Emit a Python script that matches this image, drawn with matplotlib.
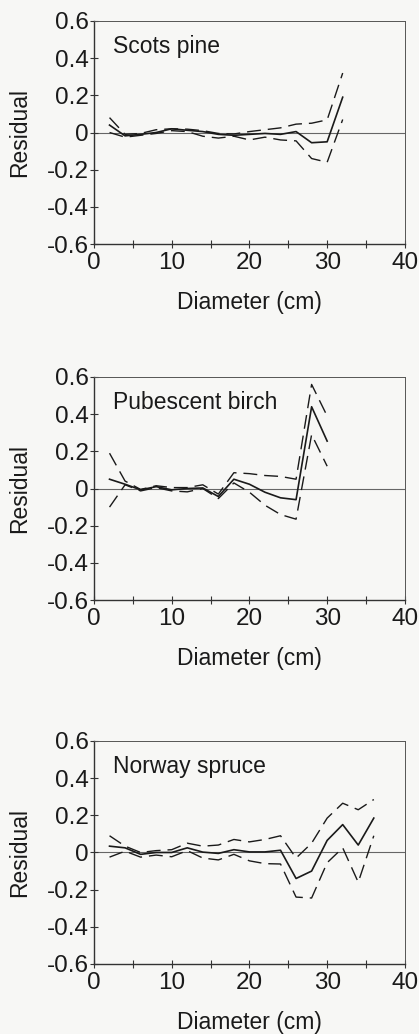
import matplotlib.pyplot as plt
import numpy as np

plt.rcParams['font.family'] = ['Liberation Sans', 'DejaVu Sans']

#Diameter classes (cm)
d_pine = [2, 4, 6, 8, 10, 12, 14, 16, 18, 20, 22, 24, 26, 28, 30, 32]
d_birch = [2, 4, 6, 8, 10, 12, 14, 16, 18, 20, 22, 24, 26, 28, 30]
d_spruce = [2, 4, 6, 8, 10, 12, 14, 16, 18, 20, 22, 24, 26, 28, 30, 32, 34, 36]

#Scots pine residuals: mean, upper and lower limit
pine_mean = [0.04, -0.018, -0.01, 0.0, 0.02, 0.012, 0.005, -0.01, -0.015, -0.01, -0.005, -0.01, 0.005, -0.055, -0.05, 0.19]
pine_upper = [0.08, -0.01, -0.005, 0.015, 0.02, 0.018, 0.01, -0.005, -0.008, 0.005, 0.015, 0.025, 0.045, 0.05, 0.068, 0.32]
pine_lower = [0.0, -0.025, -0.015, -0.005, 0.01, 0.005, -0.02, -0.03, -0.02, -0.04, -0.025, -0.04, -0.045, -0.14, -0.16, 0.07]

#Pubescent birch residuals
birch_mean = [0.05, 0.023, -0.007, 0.01, -0.007, 0.0, 0.003, -0.043, 0.05, 0.023, -0.02, -0.05, -0.06, 0.44, 0.255]
birch_upper = [0.19, 0.04, -0.005, 0.015, 0.005, 0.005, 0.02, -0.03, 0.085, 0.08, 0.07, 0.065, 0.05, 0.56, 0.39]
birch_lower = [-0.1, 0.02, -0.013, 0.005, -0.013, -0.018, 0.0, -0.054, 0.03, -0.02, -0.09, -0.14, -0.165, 0.29, 0.12]

#Norway spruce residuals
spruce_mean = [0.034, 0.025, -0.01, 0.0, 0.0, 0.025, 0.002, -0.005, 0.015, 0.003, 0.003, 0.012, -0.14, -0.1, 0.065, 0.15, 0.04, 0.185]
spruce_upper = [0.09, 0.034, 0.0, 0.01, 0.015, 0.05, 0.034, 0.04, 0.07, 0.057, 0.07, 0.09, -0.03, 0.05, 0.185, 0.265, 0.23, 0.285]
spruce_lower = [-0.025, 0.007, -0.025, -0.014, -0.023, 0.01, -0.03, -0.04, -0.01, -0.045, -0.06, -0.062, -0.24, -0.245, -0.055, 0.025, -0.16, 0.09]

species = ["Scots pine", "Pubescent birch", "Norway spruce"]
diams = [d_pine, d_birch, d_spruce]
means = [pine_mean, birch_mean, spruce_mean]
uppers = [pine_upper, birch_upper, spruce_upper]
lowers = [pine_lower, birch_lower, spruce_lower]

yticks = [0.6, 0.4, 0.2, 0, -0.2, -0.4, -0.6]
ylabels = ["0.6", "0.4", "0.2", "0", "-0.2", "-0.4", "-0.6"]

fig = plt.figure(figsize=(4.19, 10.34), dpi=100)
fig.patch.set_facecolor('#f7f7f5')

bottoms = [0.764, 0.4197, 0.0677]

for i in range(3):
    ax = fig.add_axes([0.2243, bottoms[i], 0.742, 0.2157])
    ax.set_facecolor('none')
    ax.axhline(0, color='#666666', lw=0.8, zorder=1)
    ax.plot(diams[i], means[i], color='#1a1a1a', lw=1.2)
    ax.plot(diams[i], uppers[i], color='#1a1a1a', lw=1.0, dashes=(10, 5))
    ax.plot(diams[i], lowers[i], color='#1a1a1a', lw=1.0, dashes=(10, 5))
    ax.set_xlim(0, 40)
    ax.set_ylim(-0.6, 0.6)
    ax.set_xticks([0, 10, 20, 30, 40])
    ax.set_xticks([5, 15, 25, 35], minor=True)
    ax.set_yticks(yticks)
    ax.set_yticklabels(ylabels)
    ax.tick_params(which='both', direction='inout', length=6, width=0.8,
                   labelsize=17.5, color='#333333', labelcolor='#1a1a1a')
    ax.tick_params(axis='x', pad=3)
    ax.tick_params(axis='y', pad=1)
    for s in ['left', 'bottom']:
        ax.spines[s].set_linewidth(1.0)
        ax.spines[s].set_color('#333333')
    for s in ['top', 'right']:
        ax.spines[s].set_linewidth(0.7)
        ax.spines[s].set_color('#555555')
    ax.text(0.06, 0.885, species[i], transform=ax.transAxes, fontsize=16.5,
            va='center', ha='left', color='#1a1a1a')
    ax.set_xlabel("Diameter (cm)", fontsize=16.5, color='#1a1a1a', labelpad=12)
    ax.set_ylabel("Residual", fontsize=16.5, color='#1a1a1a', labelpad=11)

plt.savefig("out.png", dpi=100, facecolor=fig.get_facecolor())
